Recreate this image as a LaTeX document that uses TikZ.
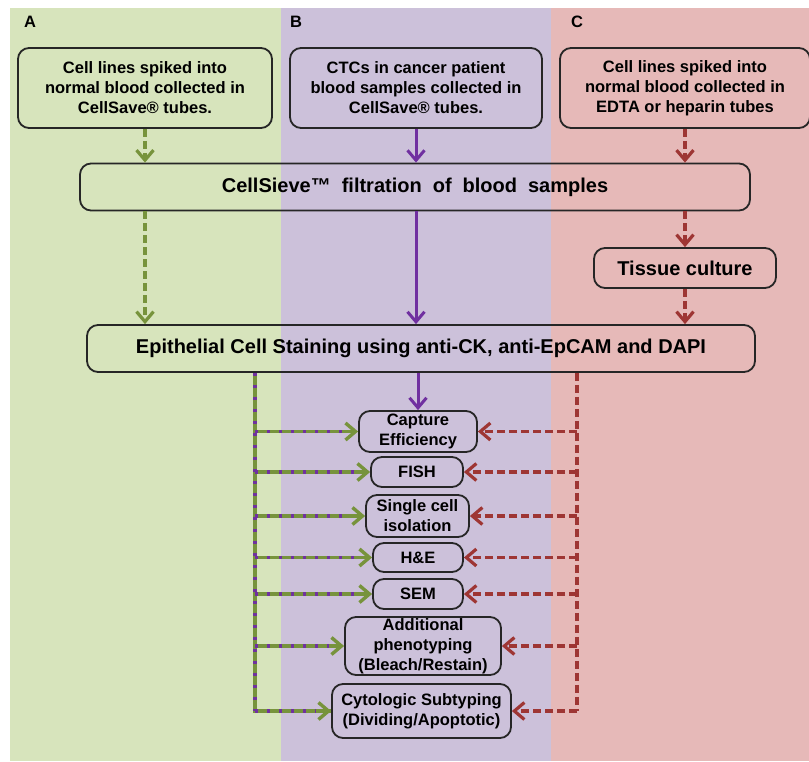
\documentclass[tikz,border=0pt]{standalone}
\usepackage{fontspec}
\setmainfont{Liberation Sans}
\usepackage{xcolor}
\usetikzlibrary{positioning,arrows.meta}
\definecolor{bgA}{RGB}{215,228,188}
\definecolor{bgB}{RGB}{204,193,218}
\definecolor{bgC}{RGB}{230,185,184}
\definecolor{lineA}{RGB}{119,147,60}
\definecolor{lineB}{RGB}{112,48,160}
\definecolor{lineC}{RGB}{158,54,52}

\begin{document}
\begin{tikzpicture}[x=1pt, y=-1pt,
    font=\bfseries\fontsize{16.5}{20}\selectfont,
    box/.style={draw=black!85, line width=1.8pt, rounded corners=11pt, align=center, inner sep=0pt},
    bigtext/.style={font=\bfseries\fontsize{20}{24}\selectfont},
    tip/.style={-{Straight Barb[length=10pt,width=17pt]}},
    flowA/.style={draw=lineA, line width=3.2pt, dash pattern=on 8pt off 4pt, tip},
    flowB/.style={draw=lineB, line width=3pt, tip},
    flowC/.style={draw=lineC, line width=3.2pt, dash pattern=on 8pt off 4pt, tip},
    busAB/.style={draw=lineA, line width=3.4pt},
    dotsB/.style={draw=lineB, line width=3.4pt, dash pattern=on 3pt off 9pt}]
    \useasboundingbox (0,0) rectangle (809,761);

    % Backgrounds
    \fill[bgA] (10,8) rectangle (281,761);
    \fill[bgB] (281,8) rectangle (551,761);
    \fill[bgC] (551,8) rectangle (809,761);
    \node (labA) at (30,22) {A};
    \node (labB) at (296,22) {B};
    \node (labC) at (577,22) {C};

    % Samples
    \node[box, minimum width=254pt, minimum height=80pt] (sampA) at (145,88)
        {Cell lines spiked into\\normal blood collected in\\CellSave\textregistered{} tubes.};
    \node[box, minimum width=252pt, minimum height=80pt] (sampB) at (416,88)
        {CTCs in cancer patient\\blood samples collected in\\CellSave\textregistered{} tubes.};
    \node[box, minimum width=250pt, minimum height=80pt] (sampC) at (685,88)
        {Cell lines spiked into\\normal blood collected in\\EDTA or heparin tubes};

    % Processing
    \node[box, bigtext, minimum width=670pt, minimum height=47pt] (filt) at (415,187)
        {CellSieve\texttrademark\hspace{11pt}filtration\hspace{11pt}of\hspace{11pt}blood\hspace{11pt}samples};
    \node[box, bigtext, minimum width=182pt, minimum height=40pt] (tissue) at (685,268) {Tissue culture};
    \node[box, bigtext, minimum width=668pt, minimum height=47pt] (stain) at (421,348.5)
        {Epithelial Cell Staining using anti-CK, anti-EpCAM and DAPI};

    % Analyses
    \node[box, minimum width=118pt, minimum height=41pt] (capt) at (418,431.5) {Capture\\Efficiency};
    \node[box, minimum width=92pt, minimum height=30pt] (fish) at (417,472) {FISH};
    \node[box, minimum width=103pt, minimum height=42pt] (single) at (417.5,516) {Single cell\\isolation};
    \node[box, minimum width=90pt, minimum height=29pt] (he) at (418,557.5) {H\&E};
    \node[box, minimum width=90pt, minimum height=30pt] (sem) at (418,594) {SEM};
    \node[box, minimum width=156pt, minimum height=58pt] (addl) at (423,646) {Additional\\phenotyping\\(Bleach/Restain)};
    \node[box, minimum width=179pt, minimum height=54pt] (cyto) at (421.5,711) {Cytologic Subtyping\\(Dividing/Apoptotic)};

    \coordinate (lbus) at (255,0);
    \coordinate (rbus) at (577,0);

    % Top arrows
    \draw[flowA] (sampA.south) -- (sampA.south |- filt.north);
    \draw[flowB] (sampB.south) -- (sampB.south |- filt.north);
    \draw[flowC] (sampC.south) -- (sampC.south |- filt.north);
    \draw[flowA] (sampA.south |- filt.south) -- (sampA.south |- stain.north);
    \draw[flowB] (sampB.south |- filt.south) -- (sampB.south |- stain.north);
    \draw[flowC] (tissue.north |- filt.south) -- (tissue.north);
    \draw[flowC] (tissue.south) -- (tissue.south |- stain.north);
    \draw[flowB] (capt.north |- stain.south) -- (capt.north);

    % Left bus (A and B)
    \draw[busAB] (stain.south -| lbus) -- (cyto.west -| lbus) -- (cyto.west);
    \draw[dotsB] (stain.south -| lbus) -- (cyto.west -| lbus);
    \foreach \n in {capt,fish,single,he,sem,addl,cyto} {
        \draw[busAB, tip] (\n.west -| lbus) -- (\n.west);
        \draw[dotsB, shorten >=15pt] (\n.west -| lbus) -- (\n.west);
    }

    % Right bus (C)
    \draw[flowC, -] (stain.south -| rbus) -- (cyto.east -| rbus);
    \foreach \n in {capt,fish,single,he,sem,addl,cyto} {
        \draw[flowC] (\n.east -| rbus) -- (\n.east);
    }
\end{tikzpicture}
\end{document}
